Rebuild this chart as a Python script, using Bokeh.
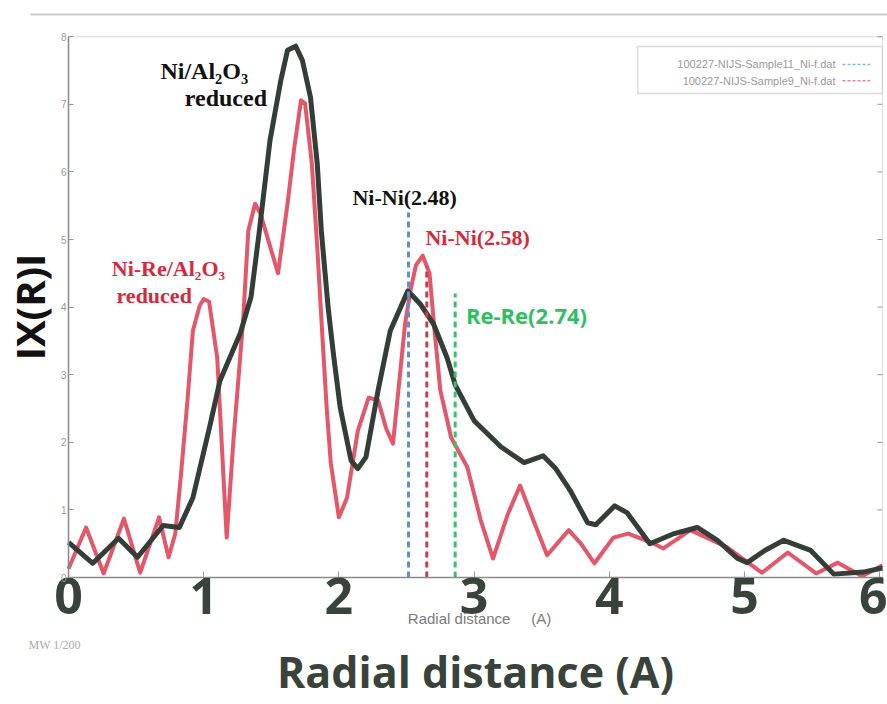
from bokeh.plotting import figure
from bokeh.models import Range1d, FixedTicker, Label, BoxAnnotation, ColumnDataSource
from bokeh.embed import file_html
from bokeh.resources import INLINE

# Ni/Al2O3 reduced (black curve)
r_ni = [0.00, 0.18, 0.37, 0.51, 0.70, 0.82, 0.92, 1.05, 1.12, 1.27, 1.35, 1.41, 1.49, 1.57,
        1.62, 1.68, 1.73, 1.79, 1.84, 1.87, 1.92, 1.96, 2.01, 2.09, 2.14, 2.20, 2.29, 2.38,
        2.51, 2.60, 2.70, 2.80, 2.86, 3.00, 3.20, 3.37, 3.51, 3.60, 3.71, 3.84, 3.90, 4.04,
        4.13, 4.30, 4.48, 4.65, 4.80, 4.95, 5.02, 5.15, 5.29, 5.49, 5.66, 5.88, 6.02]
chi_ni = [0.52, 0.21, 0.58, 0.30, 0.77, 0.74, 1.18, 2.28, 2.91, 3.61, 4.15, 5.10, 6.46, 7.35,
          7.80, 7.86, 7.65, 7.10, 6.12, 5.13, 4.00, 3.30, 2.51, 1.73, 1.61, 1.78, 2.77, 3.65,
          4.24, 4.05, 3.75, 3.25, 2.85, 2.32, 1.93, 1.70, 1.80, 1.62, 1.29, 0.81, 0.78, 1.06,
          0.96, 0.50, 0.65, 0.74, 0.55, 0.28, 0.22, 0.40, 0.55, 0.40, 0.05, 0.08, 0.14]

# Ni-Re/Al2O3 reduced (red curve)
r_nire = [0.00, 0.13, 0.26, 0.41, 0.53, 0.67, 0.74, 0.79, 0.83, 0.88, 0.92, 0.97, 1.00, 1.04,
          1.10, 1.17, 1.22, 1.29, 1.33, 1.38, 1.42, 1.55, 1.62, 1.67, 1.72, 1.75, 1.80, 1.84,
          1.88, 1.91, 1.94, 2.00, 2.06, 2.14, 2.22, 2.29, 2.35, 2.40, 2.44, 2.49, 2.53, 2.57,
          2.62, 2.67, 2.71, 2.75, 2.83, 2.95, 3.05, 3.14, 3.25, 3.34, 3.44, 3.54, 3.70, 3.79,
          3.89, 4.03, 4.14, 4.33, 4.40, 4.60, 4.87, 5.13, 5.32, 5.53, 5.69, 5.87, 6.02]
chi_nire = [0.13, 0.74, 0.06, 0.87, 0.07, 0.89, 0.30, 0.65, 1.48, 2.62, 3.65, 4.02, 4.12, 4.08,
            3.25, 0.59, 2.03, 3.76, 5.13, 5.53, 5.38, 4.50, 5.53, 6.36, 7.06, 7.01, 6.12, 4.88,
            3.50, 2.50, 1.69, 0.89, 1.18, 2.17, 2.66, 2.62, 2.20, 1.98, 2.77, 3.76, 4.25, 4.62,
            4.76, 4.50, 3.60, 2.77, 2.07, 1.63, 0.84, 0.28, 0.94, 1.36, 0.84, 0.33, 0.70, 0.50,
            0.21, 0.59, 0.65, 0.50, 0.43, 0.70, 0.45, 0.07, 0.37, 0.06, 0.22, 0.02, 0.18]

x_ticks = [0, 1, 2, 3, 4, 5, 6]
y_ticks = [0, 1, 2, 3, 4, 5, 6, 7, 8]

marker_names = ["Ni-Ni(2.48)", "Ni-Ni(2.58)", "Re-Re(2.74)"]
marker_r = [2.515, 2.65, 2.86]
marker_top = [5.40, 4.60, 4.20]
marker_colors = ["#5d8fd8", "#cc3b47", "#34c46c"]

legend_files = ["100227-NIJS-Sample11_Ni-f.dat", "100227-NIJS-Sample9_Ni-f.dat"]
legend_colors = ["#7fbcd8", "#e08896"]

# pixel scale of the scanned figure: 135.2 px per unit in R, 67.6 px per unit in |X(R)|
X_END = 6.02
p = figure(width=887, height=704, output_backend="svg", toolbar_location=None,
           x_range=Range1d(-68 / 135.2, (887 - 68) / 135.2),
           y_range=Range1d(-(704 - 577) / 67.6, 577 / 67.6),
           min_border_left=0, min_border_right=0, min_border_top=0, min_border_bottom=0)
p.background_fill_color = "white"
p.border_fill_color = "white"
p.outline_line_color = None
p.xgrid.visible = False
p.ygrid.visible = False

# x axis (fixed at y = 0)
xa = p.xaxis[0]
xa.fixed_location = 0
xa.bounds = (0, X_END)
xa.ticker = FixedTicker(ticks=x_ticks)
xa.minor_tick_line_color = None
xa.major_tick_in = 6
xa.major_tick_out = 0
xa.major_tick_line_color = "#999999"
xa.axis_line_color = "#8a8a8a"
xa.axis_line_width = 1.5
xa.major_label_text_font = "Open Sans"
xa.major_label_text_font_style = "bold"
xa.major_label_text_font_size = "50px"
xa.major_label_text_color = "#3a423c"
xa.major_label_standoff = 0
xa.axis_label = "Radial distance (A)"
xa.axis_label_text_font = "Open Sans"
xa.axis_label_text_font_style = "bold"
xa.axis_label_text_font_size = "43px"
xa.axis_label_text_color = "#3a423c"
xa.axis_label_standoff = 25

# y axis (fixed at x = 0)
ya = p.yaxis[0]
ya.fixed_location = 0
ya.bounds = (0, 8)
ya.ticker = FixedTicker(ticks=y_ticks)
ya.minor_tick_line_color = None
ya.major_tick_in = 5
ya.major_tick_out = 0
ya.major_tick_line_color = "#999999"
ya.axis_line_color = "#8a8a8a"
ya.axis_line_width = 1.5
ya.major_label_text_font = "Liberation Sans"
ya.major_label_text_font_size = "10px"
ya.major_label_text_color = "#999999"
ya.major_label_standoff = 2
ya.axis_label = "IX(R)I"
ya.axis_label_text_font = "Open Sans"
ya.axis_label_text_font_style = "bold"
ya.axis_label_text_font_size = "40px"
ya.axis_label_text_color = "#111111"
ya.axis_label_standoff = 1

# frame of the original plot and the scan border line
p.add_layout(BoxAnnotation(left=0, right=X_END, bottom=0, top=8, fill_color=None,
                           line_color="#a0a0a0", line_width=1.2, level="underlay"))
rt = ColumnDataSource(dict(x0=[X_END - 5 / 135.2] * len(y_ticks), x1=[X_END] * len(y_ticks),
                           y=y_ticks))
p.segment(x0="x0", y0="y", x1="x1", y1="y", source=rt, line_color="#999999", line_width=1)
p.segment(x0=[-38 / 135.2], y0=[563 / 67.6], x1=[X_END + 0.04], y1=[563 / 67.6],
          line_color="#cfcfcf", line_width=2)

# curves
p.line(r_nire, chi_nire, line_color="#e34d62", line_width=4, line_alpha=0.95, line_join="round")
p.line(r_ni, chi_ni, line_color="#353d38", line_width=5, line_join="round")

# dashed markers
mk = ColumnDataSource(dict(x=marker_r, y0=[0] * 3, y1=marker_top, c=marker_colors))
p.segment(x0="x", y0="y0", x1="x", y1="y1", source=mk, line_color="c", line_width=3,
          line_dash="6 4")


def lab(x, y, text, color, font="Liberation Serif", size="23px"):
    p.add_layout(Label(x=x, y=y, text=text, text_color=color, text_font=font,
                       text_font_style="bold", text_font_size=size,
                       text_baseline="middle", text_align="left"))


lab(0.68, 7.50, "Ni/Al\u2082O\u2083", "#111111", size="24px")
lab(0.86, 7.09, "reduced", "#111111", size="24px")
lab(0.32, 4.57, "Ni-Re/Al\u2082O\u2083", "#d42b3c", size="22px")
lab(0.355, 4.17, "reduced", "#d42b3c", size="22px")
lab(2.10, 5.62, marker_names[0], "#111111", size="22px")
lab(2.64, 5.03, marker_names[1], "#d42b3c", size="22px")
lab(2.94, 3.88, marker_names[2], "#2fbf62", font="Open Sans", size="22px")

# legend box of the original software
p.add_layout(BoxAnnotation(left=4.21, right=X_END, top=7.855, bottom=7.16,
                           fill_color="white", fill_alpha=1.0,
                           line_color="#8a8a8a", line_width=1.5, level="underlay"))
leg_y = [7.59, 7.35]
for name, yy in zip(legend_files, leg_y):
    p.add_layout(Label(x=5.673, y=yy, text=name, text_color="#9a9a9a",
                       text_font="Liberation Sans", text_font_size="11px",
                       text_align="right", text_baseline="middle"))
lg = ColumnDataSource(dict(x0=[5.725] * 2, x1=[5.93] * 2, y=leg_y, c=legend_colors))
p.segment(x0="x0", y0="y", x1="x1", y1="y", source=lg, line_color="c", line_width=1.5,
          line_dash="3 2")

# small scanned texts under the axis
p.add_layout(Label(x=2.51, y=-0.6, text="Radial distance\u00a0\u00a0\u00a0\u00a0\u00a0(A)",
                   text_color="#7a7a7a", text_font="Liberation Sans", text_font_size="15px",
                   text_baseline="middle", text_align="left"))
p.add_layout(Label(x=-0.296, y=-1.0, text="MW 1/200", text_color="#aaaaaa",
                   text_font="Liberation Serif", text_font_size="12px",
                   text_baseline="middle", text_align="left"))

open("out.html", "w").write(file_html(p, INLINE))
